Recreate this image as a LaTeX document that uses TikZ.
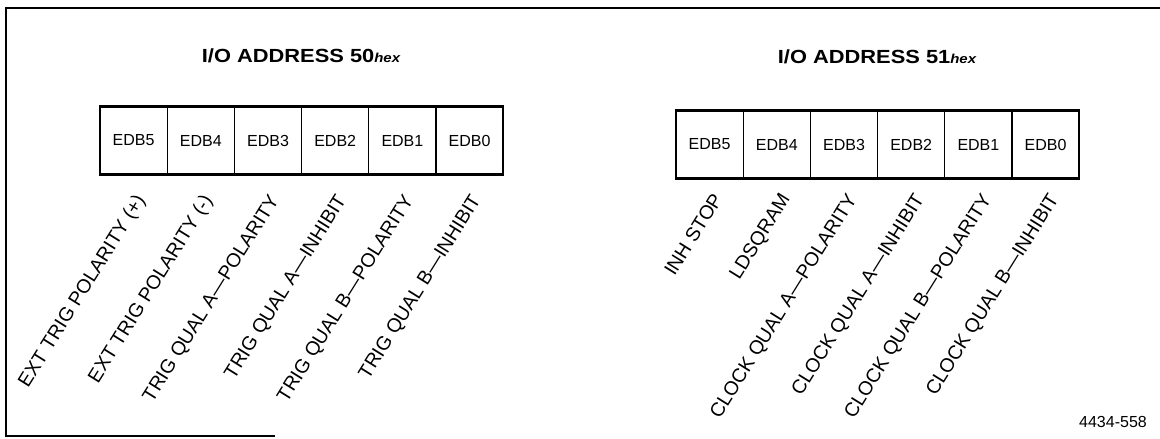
\documentclass[tikz,border=0pt]{standalone}
\usepackage{fontspec}
\setmainfont{Liberation Sans}
\usepackage{tikz}
\usetikzlibrary{positioning}

\begin{document}
\begin{tikzpicture}[x=1pt, y=-1pt, node distance=0pt,
    cell/.style={draw, rectangle, line width=1.3pt, minimum width=67.2pt, minimum height=68pt, inner sep=0pt, outer sep=0pt, font=\fontsize{16}{16}\selectfont},
    sig/.style={rotate=58, anchor=north east, inner sep=0pt, font=\fontsize{19.5}{20}\selectfont},
    addr/.style={inner sep=0pt, font=\fontsize{19}{19}\selectfont\bfseries}]
    \useasboundingbox (0,0) rectangle (1160,439);

    % Frame
    \draw[line width=1.6pt] (1160,8) -- (6,8) -- (6,436) -- (275,436);

    % I/O address 50
    \node (t50) [addr] at (301,56) {\scalebox{1.15}[1]{I/O ADDRESS 50{\fontsize{13}{13}\selectfont\itshape hex}}};
    \node (a5) [cell] at (133.6,140.5) {EDB5};
    \node (a4) [cell, right=of a5] {EDB4};
    \node (a3) [cell, right=of a4] {EDB3};
    \node (a2) [cell, right=of a3] {EDB2};
    \node (a1) [cell, right=of a2] {EDB1};
    \node (a0) [cell, right=of a1] {EDB0};
    \draw[line width=2.2pt] (a5.north west) rectangle (a0.south east);

    \node (sa5) [sig] at ([yshift=-18pt]a5.south) {EXT TRIG POLARITY (+)};
    \node (sa4) [sig] at ([yshift=-18pt]a4.south) {EXT TRIG POLARITY (-)};
    \node (sa3) [sig] at ([yshift=-18pt]a3.south) {TRIG QUAL A—POLARITY};
    \node (sa2) [sig] at ([yshift=-18pt]a2.south) {TRIG QUAL A—INHIBIT};
    \node (sa1) [sig] at ([yshift=-18pt]a1.south) {TRIG QUAL B—POLARITY};
    \node (sa0) [sig] at ([yshift=-18pt]a0.south) {TRIG QUAL B—INHIBIT};

    % I/O address 51
    \node (t51) [addr] at (877,57) {\scalebox{1.15}[1]{I/O ADDRESS 51{\fontsize{13}{13}\selectfont\itshape hex}}};
    \node (b5) [cell] at (709.6,144.5) {EDB5};
    \node (b4) [cell, right=of b5] {EDB4};
    \node (b3) [cell, right=of b4] {EDB3};
    \node (b2) [cell, right=of b3] {EDB2};
    \node (b1) [cell, right=of b2] {EDB1};
    \node (b0) [cell, right=of b1] {EDB0};
    \draw[line width=2.2pt] (b5.north west) rectangle (b0.south east);

    \node (sb5) [sig] at ([xshift=2pt, yshift=-13pt]b5.south) {INH STOP};
    \node (sb4) [sig] at ([xshift=2pt, yshift=-13pt]b4.south) {LDSQRAM};
    \node (sb3) [sig] at ([xshift=2pt, yshift=-13pt]b3.south) {CLOCK QUAL A—POLARITY};
    \node (sb2) [sig] at ([xshift=2pt, yshift=-13pt]b2.south) {CLOCK QUAL A—INHIBIT};
    \node (sb1) [sig] at ([xshift=2pt, yshift=-13pt]b1.south) {CLOCK QUAL B—POLARITY};
    \node (sb0) [sig] at ([xshift=2pt, yshift=-13pt]b0.south) {CLOCK QUAL B—INHIBIT};

    % Figure number
    \node (fig) [font=\fontsize{16}{16}\selectfont, inner sep=0pt] at (1113,422) {4434-558};
\end{tikzpicture}
\end{document}
